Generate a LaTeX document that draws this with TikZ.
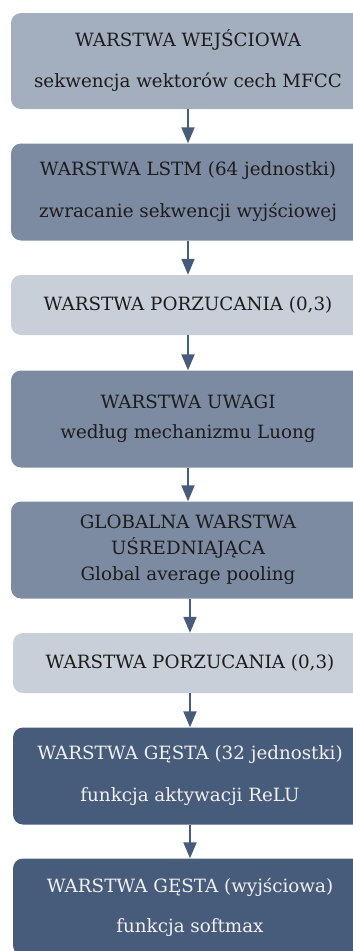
\documentclass[tikz,border=0pt]{standalone}
\usepackage{fontspec}
\setmainfont{DejaVu Serif}
\usepackage{xcolor}
\usetikzlibrary{positioning, arrows.meta}

\definecolor{layerpale}{HTML}{C8CFD9}
\definecolor{layerlight}{HTML}{A3AEBE}
\definecolor{layermid}{HTML}{7D8BA2}
\definecolor{layerdark}{HTML}{475B7A}
\definecolor{inkdark}{HTML}{1C1C1C}

\begin{document}
\begin{tikzpicture}[
  x=1pt, y=1pt,
  font=\fontsize{18.3}{22}\selectfont,
  layer/.style={rounded corners=10pt, minimum width=354pt, inner sep=0pt,
                align=center, text=inkdark},
  pale/.style={layer, fill=layerpale, minimum height=60pt},
  light/.style={layer, fill=layerlight, minimum height=96pt},
  mid/.style={layer, fill=layermid, minimum height=97pt},
  dark/.style={layer, fill=layerdark, minimum height=97pt, text=white!94!black},
  flow/.style={draw=layerdark, line width=2pt,
               -{Triangle[length=16pt, width=13pt]}}
]
\useasboundingbox (0,0) rectangle (353,-951);

\node[light] (inp)   at (188,-61)    {WARSTWA WEJŚCIOWA\\[19pt]sekwencja wektorów cech MFCC};
\node[mid]   (lstm)  at (188,-192)   {WARSTWA LSTM (64 jednostki)\\[20pt]zwracanie sekwencji wyjściowej};
\node[pale]  (drop1) at (188,-305)   {WARSTWA PORZUCANIA (0,3)};
\node[mid]   (att)   at (188,-419)   {WARSTWA UWAGI\\[8pt]według mechanizmu Luong};
\node[mid]   (gap)   at (188,-550)   {GLOBALNA WARSTWA\\[4pt]UŚREDNIAJĄCA\\[4pt]Global average pooling};
\node[pale]  (drop2) at (190,-663)   {WARSTWA PORZUCANIA (0,3)};
\node[dark]  (dense) at (190,-776)   {WARSTWA GĘSTA (32 jednostki)\\[20pt]funkcja aktywacji ReLU};
\node[dark]  (outp)  at (190,-907)   {WARSTWA GĘSTA (wyjściowa)\\[18pt]funkcja softmax};

% arrows between layers
\foreach \a/\b in {inp/lstm, lstm/drop1, drop1/att, att/gap, gap/drop2, drop2/dense, dense/outp}
  \draw[flow] (\b.north |- \a.south) -- (\b.north);
\end{tikzpicture}
\end{document}
